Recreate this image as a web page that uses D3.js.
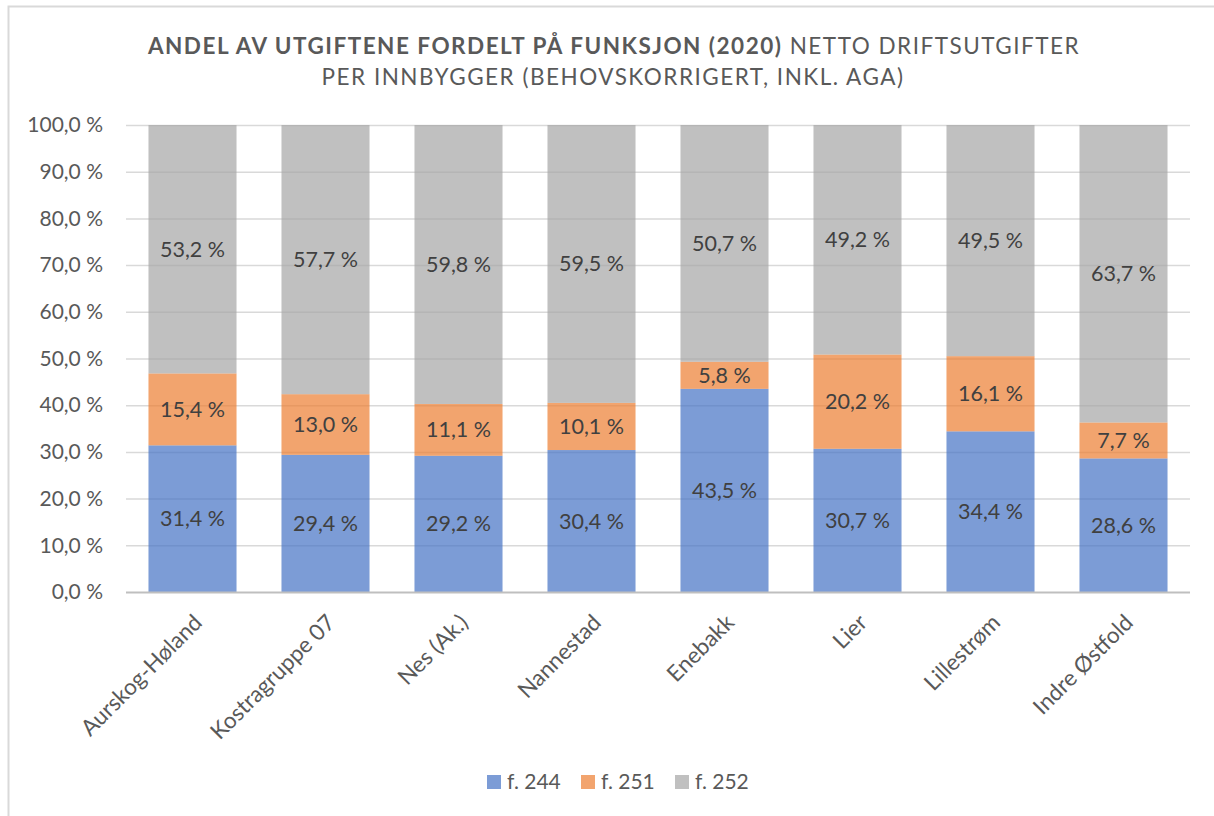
<!DOCTYPE html>
<html>
<head>
<meta charset="utf-8">
<script src="https://cdn.jsdelivr.net/npm/d3@7"></script>
<style>
  html, body { margin: 0; padding: 0; background: #fff; }
  svg { display: block; font-family: Lato, "Open Sans", sans-serif; }
</style>
</head>
<body>
<script>
const categories = ["Aurskog-Høland", "Kostragruppe 07", "Nes (Ak.)", "Nannestad", "Enebakk", "Lier", "Lillestrøm", "Indre Østfold"];
const f244 = [31.4, 29.4, 29.2, 30.4, 43.5, 30.7, 34.4, 28.6];
const f251 = [15.4, 13.0, 11.1, 10.1, 5.8, 20.2, 16.1, 7.7];
const f252 = [53.2, 57.7, 59.8, 59.5, 50.7, 49.2, 49.5, 63.7];
const seriesNames = ["f. 244", "f. 251", "f. 252"];
const seriesColors = ["#4472C4", "#ED7D31", "#A5A5A5"];
const yTicks = [0, 10, 20, 30, 40, 50, 60, 70, 80, 90, 100];

const W = 1214, H = 816;
const svg = d3.select("body").append("svg").attr("width", W).attr("height", H);

// frame
svg.append("rect").attr("x", 8.5).attr("y", 6.5).attr("width", W + 20).attr("height", H + 20)
  .attr("fill", "none").attr("stroke", "#D9D9D9").attr("stroke-width", 2);

// title
const title = svg.append("text").attr("text-anchor", "middle").attr("fill", "#595959")
  .attr("font-size", 22.5).attr("letter-spacing", 1.5);
const t1 = title.append("tspan").attr("x", 614).attr("y", 54);
t1.append("tspan").attr("font-weight", "bold").text("ANDEL AV UTGIFTENE FORDELT PÅ FUNKSJON (2020)");
t1.append("tspan").text(" NETTO DRIFTSUTGIFTER");
title.append("tspan").attr("x", 613).attr("y", 85).text("PER INNBYGGER (BEHOVSKORRIGERT, INKL. AGA)");

const x0 = 126, x1 = 1190, yTop = 125, yBot = 592;
const x = d3.scaleBand().domain(categories).range([x0, x1]).paddingInner(0.338).paddingOuter(0.169);
const y = d3.scaleLinear().domain([0, 1]).range([yBot, yTop]);

const rows = categories.map((c, i) => ({ cat: c, "f. 244": f244[i], "f. 251": f251[i], "f. 252": f252[i] }));
const stacked = d3.stack().keys(seriesNames).offset(d3.stackOffsetExpand)(rows);

// gridlines
svg.append("g").selectAll("line").data(yTicks.filter(t => t > 0)).join("line")
  .attr("x1", x0).attr("x2", x1)
  .attr("y1", d => y(d / 100) + 0.5).attr("y2", d => y(d / 100) + 0.5)
  .attr("stroke", "#D9D9D9").attr("stroke-width", 1.5);

// bars
stacked.forEach((s, si) => {
  svg.append("g").selectAll("rect").data(s).join("rect")
    .attr("x", d => x(d.data.cat))
    .attr("width", x.bandwidth())
    .attr("y", d => y(d[1]))
    .attr("height", d => y(d[0]) - y(d[1]))
    .attr("fill", seriesColors[si]).attr("fill-opacity", 0.7);
});

// data labels
const fmt = v => v.toFixed(1).replace(".", ",") + " %";
stacked.forEach((s, si) => {
  svg.append("g").selectAll("text").data(s).join("text")
    .attr("x", d => x(d.data.cat) + x.bandwidth() / 2)
    .attr("y", d => (y(d[0]) + y(d[1])) / 2)
    .attr("dy", "0.35em")
    .attr("text-anchor", "middle")
    .attr("font-size", 21.5).attr("fill", "#404040")
    .text(d => fmt(d.data[seriesNames[si]]));
});

// y axis
const yAxis = d3.axisLeft(y).tickValues(yTicks.map(t => t / 100)).tickSize(0).tickPadding(0)
  .tickFormat(d => (d * 100).toFixed(1).replace(".", ",") + " %");
const ya = svg.append("g").attr("transform", `translate(103,0)`).call(yAxis);
ya.select(".domain").remove();
ya.selectAll("text").attr("font-size", 21).attr("fill", "#595959").attr("font-family", "Lato, sans-serif");

// x axis
const xAxis = d3.axisBottom(x).tickSize(0).tickPadding(0);
const xa = svg.append("g").attr("transform", `translate(0,${yBot})`).call(xAxis);
xa.select(".domain").attr("d", `M${x0},0.5H${x1}`).attr("stroke", "#BFBFBF").attr("stroke-width", 2);
xa.selectAll("text")
  .attr("font-size", 22.5).attr("fill", "#595959").attr("font-family", "Lato, sans-serif")
  .attr("text-anchor", "end")
  .attr("dy", null).attr("y", null)
  .attr("transform", "translate(7,28) rotate(-45)")
  .attr("dominant-baseline", "middle");

// legend
const legend = svg.append("g").attr("transform", "translate(487,775)");
const lx = [0, 94, 188];
seriesNames.forEach((n, i) => {
  const g = legend.append("g").attr("transform", `translate(${lx[i]},0)`);
  g.append("rect").attr("width", 14).attr("height", 14).attr("fill", seriesColors[i]).attr("fill-opacity", 0.7);
  g.append("text").attr("x", 20).attr("y", 7).attr("dy", "0.35em").attr("font-size", 21)
    .attr("fill", "#595959").text(n);
});
</script>
</body>
</html>
